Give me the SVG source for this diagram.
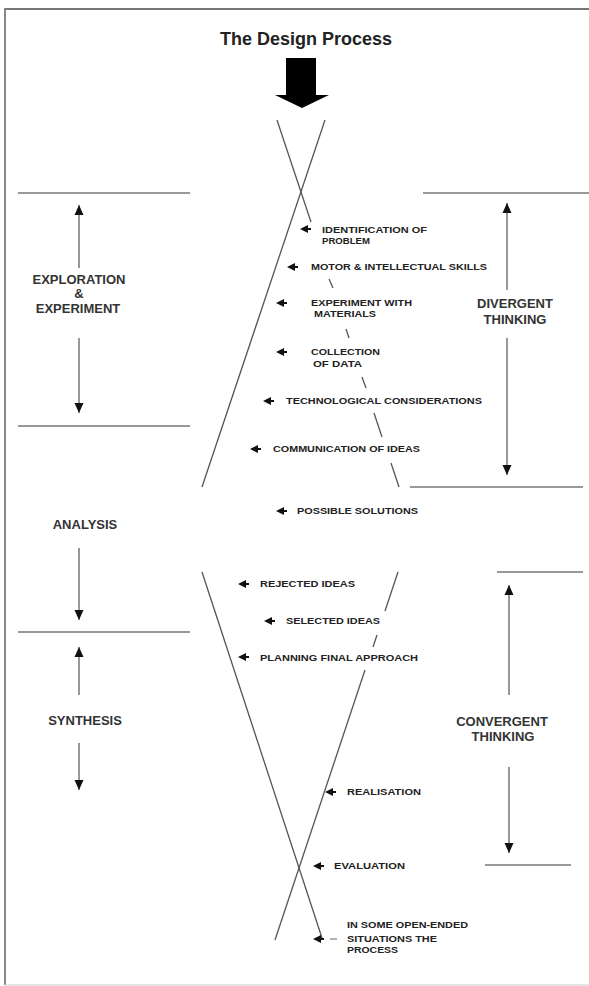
<svg xmlns="http://www.w3.org/2000/svg" width="589" height="986" viewBox="0 0 589 986">
<style>
.lbl{font-family:"Liberation Sans",Arial,sans-serif;font-weight:bold;font-size:13px;fill:#333;text-anchor:middle}
.sm{font-family:"Liberation Sans",Arial,sans-serif;font-weight:bold;font-size:9px;fill:#222}
.hl{stroke:#999;stroke-width:2;fill:none}
.dg{stroke:#555;stroke-width:1.3;fill:none}
.va{stroke:#555;stroke-width:1.2;fill:none;marker-end:url(#ah)}
</style>
<defs>
<marker id="ah" markerUnits="userSpaceOnUse" markerWidth="10" markerHeight="10" viewBox="0 0 10 10" refX="10" refY="5" orient="auto">
<path d="M0,0.5 L10,5 L0,9.5 Z" fill="#111"/>
</marker>
<path id="la" d="M0,0 L8,-4 L8,4 Z M8,-1 H11 V1 H8 Z" fill="#111"/>
</defs>
<rect width="589" height="986" fill="#fff"/>
<g id="border">
<line x1="4" y1="9" x2="589" y2="9" stroke="#777" stroke-width="2"/>
<line x1="5" y1="8" x2="5" y2="985" stroke="#888" stroke-width="2"/>
<line x1="5" y1="985" x2="589" y2="985" stroke="#ddd" stroke-width="1.5"/>
</g>
<g id="title">
<text x="306" y="45" font-family="Liberation Sans, Arial, sans-serif" font-weight="bold" font-size="18" fill="#222" text-anchor="middle">The Design Process</text>
<path d="M286,58 H316 V95 H329 L302,108 L275,95 H286 Z" fill="#000"/>
</g>
<g id="connectors">
<line class="dg" x1="325" y1="120" x2="202" y2="487"/>
<line class="dg" x1="277" y1="120" x2="311" y2="222"/>
<line class="dg" x1="329" y1="279" x2="333" y2="288"/>
<line class="dg" x1="346" y1="329" x2="349" y2="338"/>
<line class="dg" x1="362" y1="377" x2="366" y2="388"/>
<line class="dg" x1="374" y1="413" x2="382" y2="437"/>
<line class="dg" x1="391" y1="463" x2="399" y2="487"/>
<line class="dg" x1="202" y1="572" x2="322" y2="938"/>
<line class="dg" x1="398" y1="572" x2="385" y2="611"/>
<line class="dg" x1="377" y1="635" x2="373" y2="647"/>
<line class="dg" x1="365" y1="670" x2="275" y2="940"/>
<line class="hl" x1="18" y1="193" x2="190" y2="193"/>
<line class="hl" x1="18" y1="426" x2="190" y2="426"/>
<line class="hl" x1="18" y1="632" x2="190" y2="632"/>
<line class="hl" x1="423" y1="193" x2="589" y2="193"/>
<line class="hl" x1="410" y1="487" x2="583" y2="487"/>
<line class="hl" x1="497" y1="572" x2="583" y2="572"/>
<line class="hl" x1="485" y1="865" x2="571" y2="865"/>
<line class="va" x1="79" y1="268" x2="79" y2="205"/>
<line class="va" x1="79" y1="338" x2="79" y2="413"/>
<line class="va" x1="79" y1="548" x2="79" y2="620"/>
<line class="va" x1="79" y1="695" x2="79" y2="647"/>
<line class="va" x1="79" y1="743" x2="79" y2="790"/>
<line class="va" x1="507" y1="290" x2="507" y2="203"/>
<line class="va" x1="507" y1="338" x2="507" y2="475"/>
<line class="va" x1="509" y1="695" x2="509" y2="585"/>
<line class="va" x1="509" y1="767" x2="509" y2="853"/>
</g>
<g id="exploration">
<text class="lbl" x="79" y="284">EXPLORATION</text>
<text class="lbl" x="79" y="298">&amp;</text>
<text class="lbl" x="78" y="313">EXPERIMENT</text>
</g>
<g id="analysis"><text class="lbl" x="85" y="529">ANALYSIS</text></g>
<g id="synthesis"><text class="lbl" x="85" y="725">SYNTHESIS</text></g>
<g id="divergent">
<text class="lbl" x="515" y="308">DIVERGENT</text>
<text class="lbl" x="515" y="324">THINKING</text>
</g>
<g id="convergent">
<text class="lbl" x="502" y="726">CONVERGENT</text>
<text class="lbl" x="503" y="741">THINKING</text>
</g>
<g id="identification">
<use href="#la" x="300" y="229"/>
<text class="sm" x="322" y="233" textLength="105" lengthAdjust="spacingAndGlyphs">IDENTIFICATION OF</text>
<text class="sm" x="322" y="244" textLength="48" lengthAdjust="spacingAndGlyphs">PROBLEM</text>
</g>
<g id="motor">
<use href="#la" x="287" y="267"/>
<text class="sm" x="311" y="270" textLength="176" lengthAdjust="spacingAndGlyphs">MOTOR &amp; INTELLECTUAL SKILLS</text>
</g>
<g id="experiment">
<use href="#la" x="276" y="303"/>
<text class="sm" x="311" y="306" textLength="101" lengthAdjust="spacingAndGlyphs">EXPERIMENT WITH</text>
<text class="sm" x="314" y="317" textLength="62" lengthAdjust="spacingAndGlyphs">MATERIALS</text>
</g>
<g id="collection">
<use href="#la" x="276" y="352"/>
<text class="sm" x="311" y="355" textLength="69" lengthAdjust="spacingAndGlyphs">COLLECTION</text>
<text class="sm" x="313" y="367" textLength="49" lengthAdjust="spacingAndGlyphs">OF DATA</text>
</g>
<g id="technological">
<use href="#la" x="263" y="401"/>
<text class="sm" x="286" y="404" textLength="196" lengthAdjust="spacingAndGlyphs">TECHNOLOGICAL CONSIDERATIONS</text>
</g>
<g id="communication">
<use href="#la" x="250" y="449"/>
<text class="sm" x="273" y="452" textLength="147" lengthAdjust="spacingAndGlyphs">COMMUNICATION OF IDEAS</text>
</g>
<g id="possible">
<use href="#la" x="276" y="511"/>
<text class="sm" x="297" y="514" textLength="121" lengthAdjust="spacingAndGlyphs">POSSIBLE SOLUTIONS</text>
</g>
<g id="rejected">
<use href="#la" x="238" y="584"/>
<text class="sm" x="260" y="587" textLength="95" lengthAdjust="spacingAndGlyphs">REJECTED IDEAS</text>
</g>
<g id="selected">
<use href="#la" x="264" y="621"/>
<text class="sm" x="286" y="624" textLength="94" lengthAdjust="spacingAndGlyphs">SELECTED IDEAS</text>
</g>
<g id="planning">
<use href="#la" x="238" y="657"/>
<text class="sm" x="260" y="661" textLength="158" lengthAdjust="spacingAndGlyphs">PLANNING FINAL APPROACH</text>
</g>
<g id="realisation">
<use href="#la" x="325" y="792"/>
<text class="sm" x="347" y="795" textLength="74" lengthAdjust="spacingAndGlyphs">REALISATION</text>
</g>
<g id="evaluation">
<use href="#la" x="313" y="866"/>
<text class="sm" x="334" y="869" textLength="71" lengthAdjust="spacingAndGlyphs">EVALUATION</text>
</g>
<g id="openended">
<use href="#la" x="313" y="939"/>
<line x1="330" y1="939" x2="337" y2="939" stroke="#999" stroke-width="1.5"/>
<text class="sm" x="347" y="928" textLength="121" lengthAdjust="spacingAndGlyphs">IN SOME OPEN-ENDED</text>
<text class="sm" x="347" y="942" textLength="90" lengthAdjust="spacingAndGlyphs">SITUATIONS THE</text>
<text class="sm" x="347" y="953" textLength="51" lengthAdjust="spacingAndGlyphs">PROCESS</text>
</g>
</svg>
